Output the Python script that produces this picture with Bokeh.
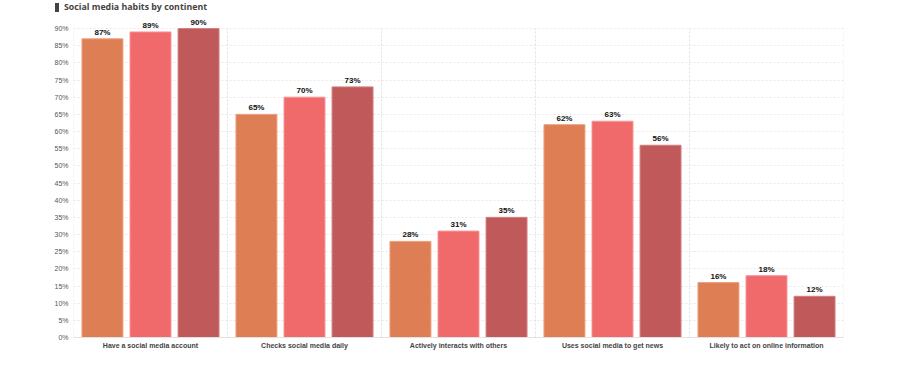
from bokeh.plotting import figure
from bokeh.layouts import column
from bokeh.models import (ColumnDataSource, FactorRange, FixedTicker, PrintfTickFormatter,
                          Legend, LegendItem, Div)
from bokeh.transform import dodge
from bokeh.core.properties import value
from bokeh.embed import file_html
from bokeh.resources import INLINE

title_text = "Social media habits by continent"
categories = ["Have a social media account", "Checks social media daily",
              "Actively interacts with others", "Uses social media to get news",
              "Likely to act on online information"]
series = ["Europe", "North America", "Asia (excluding China)"]
europe = [87, 65, 28, 62, 16]
north_america = [89, 70, 31, 63, 18]
asia = [90, 73, 35, 56, 12]
y_ticks = list(range(0, 95, 5))

fills = ["#DE7E54", "#F0696B", "#C05A5A"]
borders = ["#EDA07C", "#F89496", "#D27F7F"]
legend_colors = ["#E2582A", "#EE3B3E", "#B8292F"]

src = ColumnDataSource(dict(cat=categories, eu=europe, na=north_america, asia=asia,
                            eu_t=[f"{v}%" for v in europe],
                            na_t=[f"{v}%" for v in north_america],
                            asia_t=[f"{v}%" for v in asia],
                            y0=[0] * len(categories), y1=[y_ticks[-1]] * len(categories)))

title_div = Div(
    text=('<div style="position:relative;width:904px;height:15px;">'
          '<span style="position:absolute;left:55px;top:3px;width:4px;height:9px;background:#444444;"></span>'
          '<span style="position:absolute;left:64px;top:0px;line-height:14px;font-family:\'Open Sans\';'
          'font-weight:bold;font-size:8.8px;color:#444444;white-space:nowrap;">'
          + title_text + '</span></div>'),
    width=904, height=15, margin=(0, 0, 0, 0))

p = figure(x_range=FactorRange(*categories, range_padding=0), y_range=(0, 93.8),
           width=904, height=353, output_backend="svg", toolbar_location=None,
           min_border_left=73, min_border_right=61, min_border_top=0, min_border_bottom=31,
           margin=(0, 0, 0, 0))
p.outline_line_color = None
p.background_fill_color = "white"

# dashed category separators
for off in (-0.5, 0.5):
    p.segment(x0=dodge("cat", off, range=p.x_range), x1=dodge("cat", off, range=p.x_range),
              y0="y0", y1="y1", source=src, line_color="#e4e4e4", line_dash="2 2", line_width=1)

offsets = [-0.312, 0.0, 0.312]
cols = ["eu", "na", "asia"]
for off, c, f, b in zip(offsets, cols, fills, borders):
    p.vbar(x=dodge("cat", off, range=p.x_range), top=c, width=0.266, source=src,
           fill_color=f, line_color=b, line_width=1)
    p.text(x=dodge("cat", off, range=p.x_range), y=c, text=c + "_t", source=src,
           text_align="center", text_baseline="bottom", y_offset=-2,
           text_font=value("Liberation Sans"), text_font_style="bold",
           text_font_size="8px", text_color="#111111")

# axes
p.yaxis.ticker = FixedTicker(ticks=y_ticks)
p.yaxis.formatter = PrintfTickFormatter(format="%d%%")
p.yaxis.axis_line_color = None
p.yaxis.major_tick_line_color = None
p.yaxis.minor_tick_line_color = None
p.yaxis.major_tick_out = 0
p.yaxis.minor_tick_out = 0
p.yaxis.major_label_text_font = "Liberation Sans"
p.yaxis.major_label_text_font_size = "7px"
p.yaxis.major_label_text_color = "#555555"
p.yaxis.major_label_standoff = 5

p.xaxis.axis_line_color = "#e2e2e2"
p.xaxis.major_tick_line_color = None
p.xaxis.major_tick_out = 0
p.xaxis.major_label_text_font = "Liberation Sans"
p.xaxis.major_label_text_font_size = "7px"
p.xaxis.major_label_text_font_style = "bold"
p.xaxis.major_label_text_color = "#444444"
p.xaxis.major_label_standoff = 4

p.ygrid.grid_line_color = "#e8e8e8"
p.ygrid.grid_line_dash = "2 2"
p.xgrid.visible = False

# legend (mostly cut off at the bottom)
items = []
for name, col in zip(series, legend_colors):
    r = p.scatter(x=[categories[0]], y=[0], marker="square", size=0, color=col, visible=False)
    items.append(LegendItem(label=name, renderers=[r]))
leg = Legend(items=items, orientation="horizontal", location=(259, -36),
             glyph_width=8, glyph_height=8, label_text_font="Liberation Sans",
             label_text_font_size="8px", label_text_color="#444444",
             label_height=8, padding=0, margin=0, spacing=10, label_standoff=3,
             border_line_color=None, background_fill_alpha=0)
p.add_layout(leg)

layout = column(title_div, p, spacing=0, margin=(0, 0, 0, 0))
open("out.html", "w").write(file_html(layout, INLINE))
